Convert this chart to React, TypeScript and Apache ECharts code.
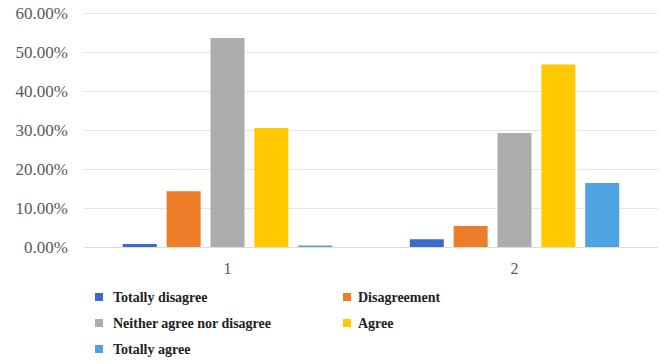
import React, { useEffect, useRef } from "react";
import * as echarts from "echarts";

// Survey response shares (percent) for the two question groups
const categories = ["1", "2"];
const seriesNames = [
  "Totally disagree",
  "Disagreement",
  "Neither agree nor disagree",
  "Agree",
  "Totally agree",
];
const totallyDisagree = [0.8, 2.0];
const disagreement = [14.3, 5.4];
const neither = [53.6, 29.2];
const agree = [30.5, 46.8];
const totallyAgree = [0.4, 16.4];
const yTicks = [0, 10, 20, 30, 40, 50, 60];

const colors = ["#3A6ACD", "#EE7D2A", "#ADADAD", "#FFC800", "#4EA3E0"];
const serif = "Times New Roman, Liberation Serif, DejaVu Serif, serif";

export default function App() {
  const ref = useRef<HTMLDivElement>(null);

  useEffect(() => {
    document.body.style.margin = "0";
    const chart = echarts.init(ref.current!, null, { renderer: "svg" });
    const values = [totallyDisagree, disagreement, neither, agree, totallyAgree];

    const legendBase = {
      orient: "vertical",
      top: 290,
      padding: 0,
      itemWidth: 8,
      itemHeight: 8,
      itemGap: 12,
      icon: "rect",
    };
    const legendText = {
      fontFamily: serif,
      fontSize: 14,
      fontWeight: "bold",
      color: "#222",
      lineHeight: 14,
    };

    chart.setOption({
      animation: false,
      color: colors,
      textStyle: { fontFamily: serif },
      grid: { left: 84, right: 7, top: 13, bottom: 117, containLabel: false },
      xAxis: {
        type: "category",
        data: categories,
        axisLine: { lineStyle: { color: "#DCDCDC", width: 1 } },
        axisTick: { show: false },
        axisLabel: {
          color: "#595959",
          fontFamily: serif,
          fontSize: 16,
          margin: 13,
        },
      },
      yAxis: {
        type: "value",
        min: yTicks[0],
        max: yTicks[yTicks.length - 1],
        interval: 10,
        axisLine: { show: false },
        axisTick: { show: false },
        splitLine: { lineStyle: { color: "#E6E6E6", width: 1 } },
        axisLabel: {
          color: "#595959",
          fontFamily: serif,
          fontSize: 17,
          margin: 16,
          formatter: (v: number) => v.toFixed(2) + "%",
        },
      },
      legend: [
        {
          ...legendBase,
          left: 95,
          data: [seriesNames[0], seriesNames[2], seriesNames[4]],
          textStyle: { ...legendText, padding: [0, 0, 0, 5] },
        },
        {
          ...legendBase,
          left: 343,
          data: [seriesNames[1], seriesNames[3]],
          textStyle: { ...legendText, padding: [0, 0, 0, 2] },
        },
      ],
      series: seriesNames.map((name, i) => ({
        name,
        type: "bar",
        data: values[i],
        barWidth: 34,
        barGap: "29%",
      })),
    });

    return () => chart.dispose();
  }, []);

  return <div ref={ref} style={{ width: 665, height: 364, background: "#fff" }} />;
}
